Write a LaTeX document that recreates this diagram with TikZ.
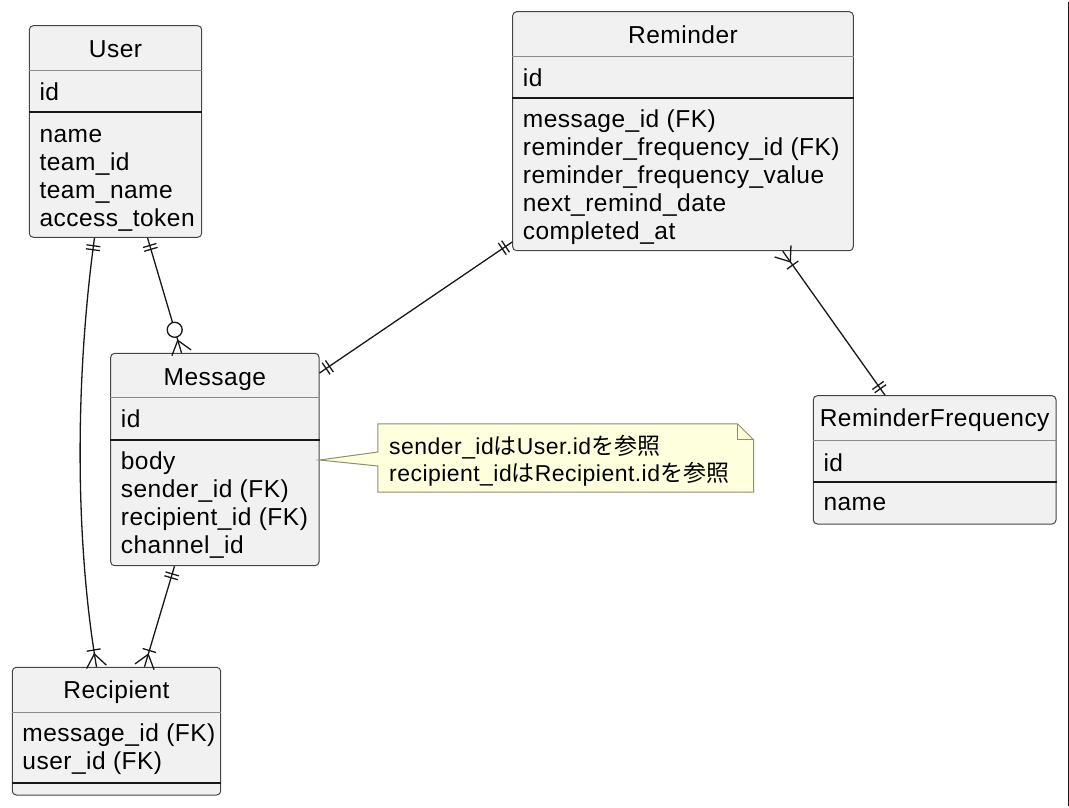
\documentclass[tikz,border=0pt]{standalone}
\usepackage{fontspec}
\setmainfont[LetterSpace=2]{Liberation Sans}
\newfontfamily\jpfont{Noto Sans CJK JP}
\usetikzlibrary{calc}

\definecolor{boxfill}{HTML}{F1F1F1}
\definecolor{boxline}{HTML}{454545}
\definecolor{sepgray}{HTML}{8A8A8A}
\definecolor{erink}{HTML}{181818}
\definecolor{notefill}{HTML}{FEFFDD}
\definecolor{noteline}{HTML}{8E8E70}

\tikzset{
  entity/.style={draw=boxline, fill=boxfill, rounded corners=4pt, line width=1pt, inner sep=0pt},
  etitle/.style={anchor=base, inner sep=0pt, font=\fontsize{24.5}{28}\selectfont},
  field/.style={anchor=base west, inner sep=0pt, font=\fontsize{24.5}{28}\selectfont},
  titlesep/.style={draw=sepgray, line width=1pt},
  idsep/.style={draw=erink, line width=1.8pt},
  erline/.style={draw=erink, line width=1.3pt},
  notetext/.style={anchor=base west, inner sep=0pt, font=\fontsize{23}{27}\selectfont},
}

% ER end marks: bar, crow's foot, circle (end point, point toward the other end)
\newcommand{\erbar}[3]{%
  \path ($(#1)!#3!(#2)$) coordinate (erm);
  \draw[erline] ($(erm)!7pt!90:(#2)$) -- ($(erm)!7pt!-90:(#2)$);}
\newcommand{\ercrow}[2]{%
  \path ($(#1)!13pt!(#2)$) coordinate (erm);
  \draw[erline] ($(#1)!10pt!90:(#2)$) -- (erm) -- ($(#1)!10pt!-90:(#2)$);}
\newcommand{\ercircle}[2]{%
  \path ($(#1)!24pt!(#2)$) coordinate (erm);
  \draw[erline, fill=white] (erm) circle (7.5pt);}

\begin{document}
\begin{tikzpicture}[x=1pt,y=-1pt]
\useasboundingbox (0,0) rectangle (1069,807);

% User
\node[entity, minimum width=172.4pt, minimum height=211.6pt] (user) at (115.5,131.5) {};
\node[etitle] (user-title) at (user.north |- 0,57) {User};
\draw[titlesep] (user.west |- 0,70.7) -- (user.east |- 0,70.7);
\node[field] (user-id) at (39.3,100) {id};
\draw[idsep] (user.west |- 0,112) -- (user.east |- 0,112);
\foreach \f [count=\i] in {name,team\_id,team\_name,access\_token}
  \node[field] (user-f\i) at (39.3,{142+28*(\i-1)}) {\f};

% Reminder
\node[entity, minimum width=340.6pt, minimum height=239pt] (reminder) at (683,131.2) {};
\node[etitle] (reminder-title) at (reminder.north |- 0,43.3) {Reminder};
\draw[titlesep] (reminder.west |- 0,56.7) -- (reminder.east |- 0,56.7);
\node[field] (reminder-id) at (522.7,86) {id};
\draw[idsep] (reminder.west |- 0,98.3) -- (reminder.east |- 0,98.3);
\foreach \f [count=\i] in {message\_id (FK),reminder\_frequency\_id (FK),reminder\_frequency\_value,next\_remind\_date,completed\_at}
  \node[field] (reminder-f\i) at (522.7,{127.7+28*(\i-1)}) {\f};

% Message
\node[entity, minimum width=208.3pt, minimum height=212.4pt] (message) at (214.85,459.5) {};
\node[etitle] (message-title) at (message.north |- 0,385) {Message};
\draw[titlesep] (message.west |- 0,397.7) -- (message.east |- 0,397.7);
\node[field] (message-id) at (120.7,427.3) {id};
\draw[idsep] (message.west |- 0,440) -- (message.east |- 0,440);
\foreach \f [count=\i] in {body,sender\_id (FK),recipient\_id (FK),channel\_id}
  \node[field] (message-f\i) at (120.7,{469.3+28*(\i-1)}) {\f};

% ReminderFrequency
\node[entity, minimum width=242.7pt, minimum height=128.3pt] (freq) at (934.65,459.85) {};
\node[etitle] (freq-title) at (freq.north |- 0,426.7) {ReminderFrequency};
\draw[titlesep] (freq.west |- 0,440.7) -- (freq.east |- 0,440.7);
\node[field] (freq-id) at (823.3,471.7) {id};
\draw[idsep] (freq.west |- 0,481.7) -- (freq.east |- 0,481.7);
\node[field] (freq-f1) at (823.3,510.7) {name};

% Recipient
\node[entity, minimum width=208.4pt, minimum height=127.7pt] (recipient) at (116.5,731.15) {};
\node[etitle] (recipient-title) at (recipient.north |- 0,698.3) {Recipient};
\draw[titlesep] (recipient.west |- 0,712.3) -- (recipient.east |- 0,712.3);
\foreach \f [count=\i] in {message\_id (FK),user\_id (FK)}
  \node[field] (recipient-f\i) at (22.3,{741.7+28*(\i-1)}) {\f};
\draw[idsep] (recipient.west |- 0,782.7) -- (recipient.east |- 0,782.7);

% Note
\node[minimum width=375.3pt, minimum height=68pt, inner sep=0pt] (note) at (565.7,458) {};
\coordinate (note-tip) at ($(message.east)+(0,0.5)$);
\draw[draw=noteline, fill=notefill, line width=1pt] (note.north west) -- ($(note.north east)+(-16,0)$)
  -- ($(note.north east)+(0,16)$) -- (note.south east) -- (note.south west)
  -- ($(note.west)+(0,8)$) -- (note-tip) -- ($(note.west)+(0,-6)$) -- cycle;
\draw[draw=noteline, line width=1pt] ($(note.north east)+(-16,0)$) -- ($(note.north east)+(-16,16)$) -- ($(note.north east)+(0,16)$);
\node[notetext] (note-l1) at (389,454) {sender\_id{\jpfont は}User.id{\jpfont を参照}};
\node[notetext] (note-l2) at (389,481) {recipient\_id{\jpfont は}Recipient.id{\jpfont を参照}};

% User -- Recipient
\coordinate (ur-a) at ($(user.south west)+(65.7,0)$);
\coordinate (ur-b) at ($(recipient.north west)+(84.7,0)$);
\coordinate (ur-c1) at (75,380);
\coordinate (ur-c2) at (75,540);
\draw[erline] (ur-a) .. controls (ur-c1) and (ur-c2) .. (ur-b);
\erbar{ur-a}{ur-c1}{8pt} \erbar{ur-a}{ur-c1}{12pt}
\ercrow{ur-b}{ur-c2} \erbar{ur-b}{ur-c2}{17pt}

% User -- Message
\coordinate (um-a) at ($(user.south west)+(118.7,0)$);
\coordinate (um-b) at ($(message.north west)+(71.3,0)$);
\draw[erline] (um-a) -- (um-b);
\erbar{um-a}{um-b}{8pt} \erbar{um-a}{um-b}{12pt}
\ercrow{um-b}{um-a} \ercircle{um-b}{um-a}

% Message -- Recipient
\coordinate (mr-a) at ($(message.south west)+(64.3,0)$);
\coordinate (mr-b) at ($(recipient.north west)+(132.7,0)$);
\draw[erline] (mr-a) -- (mr-b);
\erbar{mr-a}{mr-b}{8pt} \erbar{mr-a}{mr-b}{12pt}
\ercrow{mr-b}{mr-a} \erbar{mr-b}{mr-a}{17pt}

% Reminder -- Message
\coordinate (rm-a) at ($(reminder.south west)+(0,-9.2)$);
\coordinate (rm-b) at ($(message.north east)+(0,20.2)$);
\draw[erline] (rm-a) -- (rm-b);
\erbar{rm-a}{rm-b}{8pt} \erbar{rm-a}{rm-b}{12pt}
\erbar{rm-b}{rm-a}{8pt} \erbar{rm-b}{rm-a}{12pt}

% Reminder -- ReminderFrequency
\coordinate (rf-a) at ($(reminder.south west)+(270.6,0)$);
\coordinate (rf-b) at ($(freq.north west)+(72.2,0)$);
\draw[erline] (rf-a) -- (rf-b);
\ercrow{rf-a}{rf-b} \erbar{rf-a}{rf-b}{17pt}
\erbar{rf-b}{rf-a}{8pt} \erbar{rf-b}{rf-a}{12pt}

% frame edge
\draw[erink, line width=1.5pt] (1068.4,1.5) -- (1068.4,806);
\end{tikzpicture}
\end{document}
